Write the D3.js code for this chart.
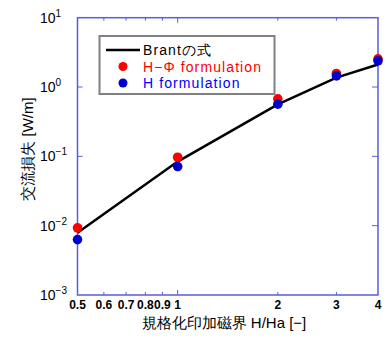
<!DOCTYPE html>
<html>
<head>
<meta charset="utf-8">
<script src="https://cdn.jsdelivr.net/npm/d3@7"></script>
<style>
  body { margin: 0; background: #fff; }
  text { font-family: "Liberation Sans", Arial, sans-serif; }
</style>
</head>
<body>
<div id="chart"></div>
<script>
var width = 387;
var height = 340;

// data
var hValues = [0.5, 1, 2, 3, 4];
var brantLoss = [0.0079, 0.084, 0.56, 1.37, 2.11];
var hPhiLoss = [0.0093, 0.097, 0.675, 1.57, 2.55];
var hLoss = [0.0063, 0.0713, 0.565, 1.45, 2.39];

var xTicks = [0.5, 0.6, 0.7, 0.8, 0.9, 1, 2, 3, 4];
var xTickLabels = ["0.5", "0.6", "0.7", "0.8", "0.9", "1", "2", "3", "4"];
var yExponents = [-3, -2, -1, 0, 1];

var legendItems = [
  {label: "Brantの式", color: "#000", type: "line"},
  {label: "H−Φ formulation", color: "#ff0000", type: "dot"},
  {label: "H formulation", color: "#0000ff", type: "dot", dot: "#0000cc"}
];

var pLeft = 77.5, pRight = 378, pTop = 17.7, pBottom = 295;
var axisColor = "#5b5be0";

var svg = d3.select("#chart")
  .append("svg")
  .attr("width", width)
  .attr("height", height);

var xScale = d3.scaleLog().domain([0.5, 4]).range([pLeft, pRight]);
var yScale = d3.scaleLog().domain([1e-3, 1e1]).range([pBottom, pTop]);

// frame
svg.append("rect")
  .attr("x", pLeft)
  .attr("y", pTop)
  .attr("width", pRight - pLeft)
  .attr("height", pBottom - pTop)
  .attr("fill", "none")
  .attr("stroke", axisColor)
  .attr("stroke-width", 1.5);

// x ticks, bottom and top, pointing inward
var xInner = xTicks.filter(function(d) { return d > 0.5 && d < 4; });
function tickLen(d) { return d == 1 ? 5 : 3; }
svg.append("g").selectAll("line")
  .data(xInner)
  .enter()
  .append("line")
  .attr("x1", function(d) { return xScale(d); })
  .attr("x2", function(d) { return xScale(d); })
  .attr("y1", pBottom)
  .attr("y2", function(d) { return pBottom - tickLen(d); })
  .attr("stroke", axisColor)
  .attr("stroke-width", 1);

svg.append("g").selectAll("line")
  .data(xInner)
  .enter()
  .append("line")
  .attr("x1", function(d) { return xScale(d); })
  .attr("x2", function(d) { return xScale(d); })
  .attr("y1", pTop)
  .attr("y2", function(d) { return pTop + tickLen(d); })
  .attr("stroke", axisColor)
  .attr("stroke-width", 1);

// y ticks, left and right
var yInner = yExponents.slice(1, -1);
svg.append("g").selectAll("line")
  .data(yInner)
  .enter()
  .append("line")
  .attr("x1", pLeft)
  .attr("x2", pLeft + 5)
  .attr("y1", function(d) { return yScale(Math.pow(10, d)); })
  .attr("y2", function(d) { return yScale(Math.pow(10, d)); })
  .attr("stroke", axisColor);

svg.append("g").selectAll("line")
  .data(yInner)
  .enter()
  .append("line")
  .attr("x1", pRight)
  .attr("x2", pRight - 6)
  .attr("y1", function(d) { return yScale(Math.pow(10, d)); })
  .attr("y2", function(d) { return yScale(Math.pow(10, d)); })
  .attr("stroke", axisColor);

// x tick labels
svg.append("g").selectAll("text")
  .data(xTicks)
  .enter()
  .append("text")
  .attr("x", function(d) { return xScale(d); })
  .attr("y", 309)
  .attr("text-anchor", "middle")
  .attr("font-size", 12)
  .attr("font-weight", "bold")
  .attr("fill", "#000")
  .text(function(d, i) { return xTickLabels[i]; });

// y tick labels (10^n)
var yLab = svg.append("g").selectAll("text")
  .data(yExponents)
  .enter()
  .append("text")
  .attr("x", 40)
  .attr("y", function(d) { return yScale(Math.pow(10, d)) + 5; })
  .attr("font-size", 14)
  .attr("fill", "#000");
yLab.append("tspan").text("10");
yLab.append("tspan")
  .attr("dy", -6)
  .attr("font-size", 10)
  .text(function(d) { return d < 0 ? "−" + (-d) : d; });

// axis titles
svg.append("text")
  .attr("x", 224)
  .attr("y", 328)
  .attr("text-anchor", "middle")
  .attr("font-size", 15)
  .attr("fill", "#000")
  .text("規格化印加磁界 H/Ha [−]");

svg.append("text")
  .attr("transform", "translate(33,149) rotate(-90)")
  .attr("text-anchor", "middle")
  .attr("font-size", 15)
  .attr("fill", "#000")
  .text("交流損失 [W/m]");

// Brant line
var line = d3.line()
  .x(function(d, i) { return xScale(hValues[i]); })
  .y(function(d) { return yScale(d); });

svg.append("path")
  .datum(brantLoss)
  .attr("d", line)
  .attr("fill", "none")
  .attr("stroke", "#000")
  .attr("stroke-width", 2.5);

// points
svg.append("g").selectAll("circle")
  .data(hPhiLoss)
  .enter()
  .append("circle")
  .attr("cx", function(d, i) { return xScale(hValues[i]); })
  .attr("cy", function(d) { return yScale(d); })
  .attr("r", 4.8)
  .attr("fill", "#ff0000");

svg.append("g").selectAll("circle")
  .data(hLoss)
  .enter()
  .append("circle")
  .attr("cx", function(d, i) { return xScale(hValues[i]); })
  .attr("cy", function(d) { return yScale(d); })
  .attr("r", 4.8)
  .attr("fill", "#0000cc");

// legend
var lg = svg.append("g");
lg.append("rect")
  .attr("x", 99.5)
  .attr("y", 36)
  .attr("width", 175)
  .attr("height", 58)
  .attr("fill", "#fff")
  .attr("stroke", "#808080")
  .attr("stroke-width", 2);

var items = lg.selectAll("g")
  .data(legendItems)
  .enter()
  .append("g")
  .attr("transform", function(d, i) { return "translate(0," + (50 + i * 16.5) + ")"; });

items.filter(function(d) { return d.type == "line"; })
  .append("line")
  .attr("x1", 106)
  .attr("x2", 140)
  .attr("y1", 0)
  .attr("y2", 0)
  .attr("stroke", "#000")
  .attr("stroke-width", 2.5);

items.filter(function(d) { return d.type == "dot"; })
  .append("circle")
  .attr("cx", 123)
  .attr("cy", 0)
  .attr("r", 4.5)
  .attr("fill", function(d) { return d.dot || d.color; });

items.append("text")
  .attr("x", 143)
  .attr("y", 5)
  .attr("font-size", 14)
  .attr("fill", function(d) { return d.color; })
  .style("letter-spacing", "1.1px")
  .text(function(d) { return d.label; });
</script>
</body>
</html>
